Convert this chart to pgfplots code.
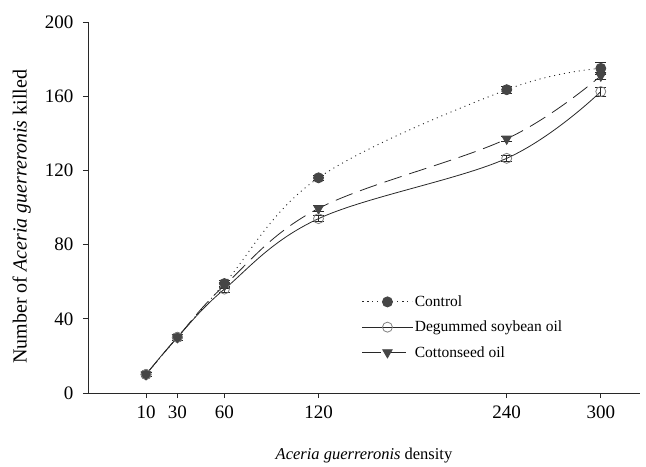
\documentclass[border=0pt]{standalone}
\usepackage{pgfplots}
\pgfplotsset{compat=1.18}
\usepackage{fontspec}
\setmainfont{Liberation Serif}
\definecolor{mk}{RGB}{70,70,70}
\definecolor{ln}{RGB}{40,40,40}
\begin{document}
\begin{tikzpicture}
\begin{axis}[
  scale only axis,
  width=552pt, height=371pt,
  xmin=-27, xmax=325,
  ymin=0, ymax=200,
  axis lines*=left,
  axis line style={draw=ln, line width=0.8pt},
  tick align=outside,
  major tick length=5pt,
  tick style={draw=ln, line width=0.8pt},
  xtick={10,30,60,120,240,300},
  ytick={0,40,80,120,160,200},
  /pgf/number format/assume math mode=true,
  ticklabel style={font=\fontsize{19}{21}\selectfont},
  xticklabel style={yshift=-4pt},
  yticklabel style={xshift=-6pt},
  xlabel={\textit{Aceria guerreronis} density},
  ylabel={Number of \textit{Aceria guerreronis} killed},
  xlabel style={font=\fontsize{16.5}{18}\selectfont, at={(axis description cs:0.5,-0.168)}, anchor=center},
  ylabel style={font=\fontsize{20}{22}\selectfont, at={(axis description cs:-0.12,0.475)}, anchor=center},
  clip=false,
  legend cell align=left,
  legend style={draw=none, fill=none, at={(0.496,0.268)}, anchor=north west,
    font=\fontsize{15.5}{17}\selectfont, row sep=9pt, inner sep=0pt,
    /tikz/every even column/.append style={column sep=8pt}},
  legend image code/.code={\draw[mark repeat=2,mark phase=2] plot coordinates {(0pt,0pt) (25pt,0pt) (50pt,0pt)};},
  error bars/y dir=both, error bars/y explicit,
  error bars/error bar style={draw=ln, line width=0.7pt},
  error bars/error mark options={rotate=90, mark size=5.5pt, draw=ln, line width=0.7pt},
]
\addplot[smooth, tension=0.6, dash pattern=on 1pt off 4pt, color=ln, line width=0.9pt, mark=*, mark size=5pt,
  mark options={solid, fill=mk, draw=mk}]
  coordinates {(10,10) +- (0,1.2) (30,30) +- (0,1.5) (60,59) +- (0,1.8) (120,116) +- (0,1.5) (240,163.5) +- (0,2) (300,175) +- (0,3)};
\addlegendentry{Control}
\addplot[smooth, tension=0.6, solid, color=ln, line width=0.8pt, mark=o, mark size=5pt,
  mark options={solid, fill=white, draw=gray}]
  coordinates {(10,10) +- (0,1.2) (30,30) +- (0,1.5) (60,56) +- (0,1.5) (120,94) +- (0,1.5) (240,126.5) +- (0,1.5) (300,162.5) +- (0,2.5)};
\addlegendentry{Degummed soybean oil}
\addplot[smooth, tension=0.6, dash pattern=on 18pt off 8pt, color=ln, line width=0.8pt, mark=triangle*, mark size=5.5pt,
  mark options={solid, rotate=180, fill=mk, draw=mk}]
  coordinates {(10,10) +- (0,1.2) (30,30) +- (0,1.5) (60,58) +- (0,1.5) (120,99.5) +- (0,1.5) (240,137) +- (0,1.5) (300,171) +- (0,2)};
\addlegendentry{Cottonseed oil}
\end{axis}
\path (current axis.south west) ++(-88pt,-72pt) coordinate (bbsw);
\path (current axis.north east) ++(6pt,22pt) coordinate (bbne);
\useasboundingbox (bbsw) rectangle (bbne);
\end{tikzpicture}
\end{document}
